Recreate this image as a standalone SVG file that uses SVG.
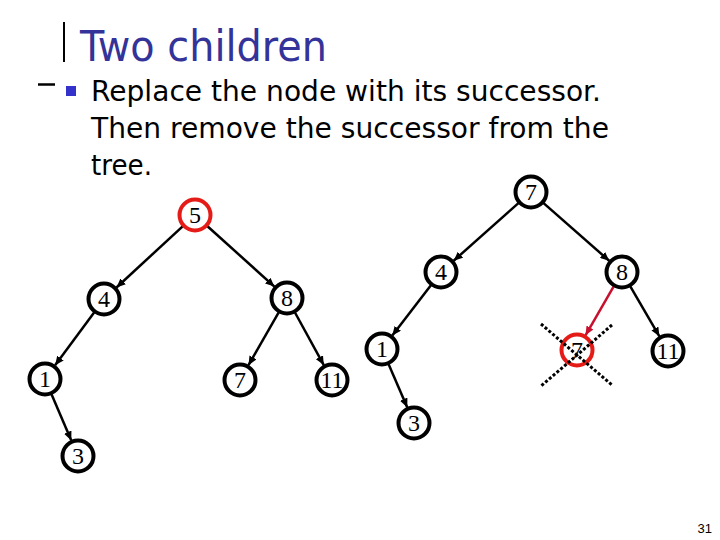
<svg xmlns="http://www.w3.org/2000/svg" width="720" height="540" viewBox="0 0 720 540">
<style>
.n circle{fill:#fff;stroke:#000;stroke-width:4}
.n.red circle{stroke:#e41b17}
.n text{font-family:"Liberation Serif","Times New Roman",serif;font-size:24px;text-anchor:middle;fill:#000}
.e{stroke:#000;stroke-width:2.5;fill:none;marker-end:url(#ah)}
.e.red{stroke:#c8102e;marker-end:url(#ahr)}
.body{font-family:"DejaVu Sans",Tahoma,sans-serif;font-size:28px;fill:#000}
</style>
<defs>
<marker id="ah" markerUnits="userSpaceOnUse" markerWidth="9" markerHeight="8" refX="9" refY="4" orient="auto"><path d="M0,0 L9,4 L0,8 z" fill="#000"/></marker>
<marker id="ahr" markerUnits="userSpaceOnUse" markerWidth="9" markerHeight="8" refX="9" refY="4" orient="auto"><path d="M0,0 L9,4 L0,8 z" fill="#c8102e"/></marker>
</defs>
<rect width="720" height="540" fill="#fff"/>
<g id="header">
<line x1="64" y1="22" x2="64" y2="62" stroke="#000" stroke-width="2"/>
<text x="80" y="61" font-family="DejaVu Sans,Tahoma,sans-serif" font-size="42" fill="#333399" textLength="247" lengthAdjust="spacingAndGlyphs">Two children</text>
<line x1="38" y1="84.5" x2="55" y2="84.5" stroke="#000" stroke-width="2.5"/>
<rect x="66" y="86" width="10" height="10" fill="#3333cc"/>
<text class="body" x="91" y="101" textLength="510" lengthAdjust="spacingAndGlyphs">Replace the node with its successor.</text>
<text class="body" x="91" y="138" textLength="518" lengthAdjust="spacingAndGlyphs">Then remove the successor from the</text>
<text class="body" x="91" y="175" textLength="61" lengthAdjust="spacingAndGlyphs">tree.</text>
</g>
<g id="connectors">
<line class="e" x1="183.2" y1="225.8" x2="116.5" y2="287.5"/>
<line class="e" x1="206.9" y1="225.7" x2="274.4" y2="286.6"/>
<line class="e" x1="94.5" y1="311.9" x2="55.1" y2="365.3"/>
<line class="e" x1="51.3" y1="393.7" x2="71.3" y2="440.4"/>
<line class="e" x1="279" y1="311.9" x2="248.5" y2="365.2"/>
<line class="e" x1="294.7" y1="312" x2="323.8" y2="365.1"/>
<line class="e" x1="519" y1="202.6" x2="453.7" y2="260.7"/>
<line class="e" x1="543" y1="202.6" x2="609.2" y2="260.8"/>
<line class="e" x1="431.3" y1="284.7" x2="392.3" y2="335.5"/>
<line class="e" x1="388.4" y1="363.7" x2="407.3" y2="407.4"/>
<line class="e red" x1="614" y1="285.9" x2="585.5" y2="335.3"/>
<line class="e" x1="630" y1="285.8" x2="659.4" y2="336.3"/>
</g>
<g id="L5" class="n red"><circle cx="195" cy="215" r="15.5"/><text x="195" y="223">5</text></g>
<g id="L4" class="n"><circle cx="104" cy="299" r="15.5"/><text x="104" y="307">4</text></g>
<g id="L8" class="n"><circle cx="287" cy="298" r="15.5"/><text x="287" y="306">8</text></g>
<g id="L1" class="n"><circle cx="45" cy="379" r="15.5"/><text x="45" y="387">1</text></g>
<g id="L3" class="n"><circle cx="78" cy="456" r="15.5"/><text x="78" y="464">3</text></g>
<g id="L7" class="n"><circle cx="240" cy="380" r="15.5"/><text x="240" y="388">7</text></g>
<g id="L11" class="n"><circle cx="332" cy="380" r="15.5"/><text x="332" y="388">11</text></g>
<g id="R7" class="n"><circle cx="531" cy="192" r="15.5"/><text x="531" y="200">7</text></g>
<g id="R4" class="n"><circle cx="441" cy="272" r="15.5"/><text x="441" y="280">4</text></g>
<g id="R8" class="n"><circle cx="622" cy="272" r="15.5"/><text x="622" y="280">8</text></g>
<g id="R1" class="n"><circle cx="382" cy="349" r="15.5"/><text x="382" y="357">1</text></g>
<g id="R3" class="n"><circle cx="414" cy="423" r="15.5"/><text x="414" y="431">3</text></g>
<g id="R7red" class="n red"><circle cx="577" cy="350" r="15.5"/><text x="577" y="358">7</text></g>
<g id="R11" class="n"><circle cx="668" cy="351" r="15.5"/><text x="668" y="359">11</text></g>
<g id="cross" stroke="#000" stroke-width="3" stroke-dasharray="3,2">
<line x1="541" y1="324" x2="612" y2="385"/>
<line x1="612" y1="325" x2="541" y2="386"/>
</g>
<text x="712" y="533" font-family="Liberation Sans,Arial,sans-serif" font-size="13" text-anchor="end" fill="#000">31</text>
</svg>
